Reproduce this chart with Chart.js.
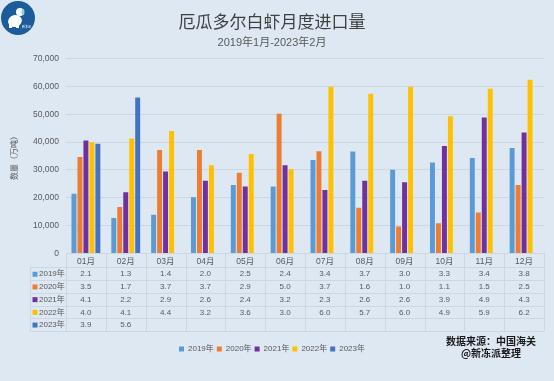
<!DOCTYPE html>
<html><head><meta charset="utf-8">
<script src="https://cdn.jsdelivr.net/npm/chart.js@4.4.1/dist/chart.umd.min.js"></script>
<style>html,body{margin:0;padding:0;background:#DEE8F3;}#wrap{width:554px;height:381px;}</style>
</head><body><div id="wrap"><canvas id="c" width="554" height="381"></canvas></div>
<script>
const months = ['01月','02月','03月','04月','05月','06月','07月','08月','09月','10月','11月','12月'];
const seriesNames = ['2019年','2020年','2021年','2022年','2023年'];
const v2019 = [21400,12700,13850,20200,24600,24000,33600,36600,30100,32700,34300,37900];
const v2020 = [34600,16700,37200,37200,29000,50200,36700,16400,9700,10800,14700,24600];
const v2021 = [40600,22000,29400,26100,24000,31700,22800,26100,25600,38600,48800,43400];
const v2022 = [39900,41300,44000,31700,35700,30200,59900,57400,59900,49300,59200,62400];
const v2023 = [39400,56000];
const yTicks = [0,10000,20000,30000,40000,50000,60000,70000];
const colors = ['#5B9BD5','#ED7D31','#7030A0','#FFC000','#4472C4'];
const titleText = '厄瓜多尔白虾月度进口量';
const subtitleText = '2019年1月-2023年2月';
const yTitle = '数量（万吨）';
const sourceLines = ['数据来源：中国海关','@新冻派整理'];

const allSeries = [v2019,v2020,v2021,v2022,v2023];
const FONT = "'Liberation Sans','Noto Sans CJK SC',sans-serif";
const TXT = '#595959';
const GRID = '#CDD6E1';

const bgPlugin = {
  id:'bg',
  beforeDraw(chart){
    const ctx = chart.ctx;
    ctx.save(); ctx.fillStyle = '#DEE8F3'; ctx.fillRect(0,0,chart.width,chart.height);
    // logo
    ctx.fillStyle = '#1D5C9A';
    ctx.beginPath(); ctx.arc(18,18,17,0,Math.PI*2); ctx.fill();
    ctx.fillStyle = '#FFFFFF';
    ctx.beginPath(); ctx.ellipse(15,21,7,6,-0.3,0,Math.PI*2); ctx.fill();
    ctx.beginPath(); ctx.ellipse(20,12,4,4,0,0,Math.PI*2); ctx.fill();
    ctx.fillRect(9,24,3,4); ctx.fillRect(16,24,3,4);
    ctx.fillStyle = '#7FD3F0';
    ctx.beginPath(); ctx.ellipse(23,12,1.5,3,0,0,Math.PI*2); ctx.fill();
    ctx.fillStyle = '#FFFFFF';
    ctx.font = "3px 'Noto Sans CJK SC'";
    ctx.fillText('新冻派',22,27);
    ctx.restore();
  }
};

const tablePlugin = {
  id:'table',
  afterDraw(chart){
    const ctx = chart.ctx, x = chart.scales.x;
    const top = x.top, headerH = 14, rowH = 12.7;
    const left = x.left - 36;
    const n = months.length;
    const bounds = [];
    for (let i=0;i<=n;i++) bounds.push(x.getPixelForValue(i-0.5));
    const bottom = top + headerH + rowH*allSeries.length;
    ctx.save();
    ctx.strokeStyle = GRID; ctx.lineWidth = 1;
    ctx.beginPath();
    for (let i=0;i<=allSeries.length;i++){
      const y = Math.round(top+headerH+i*rowH)+0.5;
      ctx.moveTo(left,y); ctx.lineTo(x.right,y);
    }
    bounds.forEach(b=>{ const xx=Math.round(b)+0.5; ctx.moveTo(xx,top); ctx.lineTo(xx,bottom); });
    const lx = Math.round(left)+0.5;
    ctx.moveTo(lx,top+headerH); ctx.lineTo(lx,bottom);
    ctx.stroke();
    ctx.font = "8px " + FONT;
    ctx.textBaseline = 'middle';
    allSeries.forEach((arr,si)=>{
      const yc = top+headerH+si*rowH+rowH/2+0.5;
      ctx.fillStyle = colors[si];
      ctx.fillRect(left+2.5,yc-2.5,5,5);
      ctx.fillStyle = TXT; ctx.textAlign='left';
      ctx.fillText(seriesNames[si], left+9, yc);
      ctx.textAlign='center';
      arr.forEach((v,i)=>{
        if (v==null) return;
        ctx.fillText((v/10000).toFixed(1), x.getPixelForValue(i), yc);
      });
    });
    // source text
    ctx.fillStyle = '#1a1a1a';
    ctx.font = "bold 10px 'Noto Sans CJK SC'";
    ctx.textAlign = 'center';
    const sx = chart.chartArea.right - 53;
    const sy = chart.legend.top - 0.5;
    sourceLines.forEach((t,i)=>ctx.fillText(t, sx, sy + i*11.7));
    ctx.restore();
  }
};

new Chart(document.getElementById('c'), {
  type:'bar',
  data:{
    labels: months,
    datasets: allSeries.map((arr,i)=>({
      label: seriesNames[i], data: arr, backgroundColor: colors[i],
      borderWidth:0, categoryPercentage:0.75, barPercentage:0.83
    }))
  },
  options:{
    responsive:false, animation:false,
    layout:{padding:{left:0,right:10,top:0,bottom:18}},
    plugins:{
      title:{display:true,text:titleText,color:'#404040',
        font:{family:"'Noto Sans CJK SC'",size:17,weight:'normal'},padding:{top:11,bottom:2}},
      subtitle:{display:true,text:subtitleText,color:TXT,
        font:{family:FONT,size:11},padding:{top:3,bottom:9}},
      legend:{position:'bottom',
        labels:{boxWidth:5,boxHeight:5,padding:3,color:TXT,font:{family:FONT,size:8}}},
      tooltip:{enabled:false}
    },
    scales:{
      x:{
        grid:{display:false,drawTicks:false},
        border:{display:true,color:GRID},
        ticks:{color:TXT,font:{family:FONT,size:8.5},padding:3,maxRotation:0},
        afterFit(s){ s.height = 88.6; }
      },
      y:{
        min:0,max:70000,
        afterBuildTicks(s){ s.ticks = yTicks.map(v=>({value:v})); },
        grid:{color:GRID,drawTicks:false},
        border:{display:false},
        ticks:{color:TXT,font:{family:FONT,size:8.5},padding:7},
        title:{display:true,text:yTitle,color:TXT,font:{family:"'Noto Sans CJK SC'",size:8},padding:{top:9,bottom:0}},
        afterFit(s){ s.width = 66; }
      }
    }
  },
  plugins:[bgPlugin, tablePlugin]
});
</script></body></html>
